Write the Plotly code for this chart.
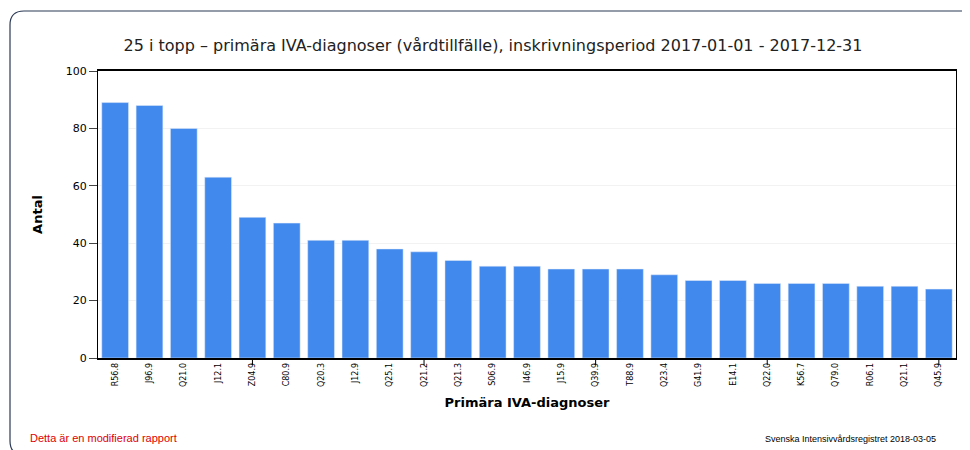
import plotly.graph_objects as go

diagnoser = ["R56.8", "J96.9", "Q21.0", "J12.1", "Z04.9", "C80.9", "Q20.3", "J12.9",
             "Q25.1", "Q21.2", "Q21.3", "S06.9", "I46.9", "J15.9", "Q39.9", "T88.9",
             "Q23.4", "G41.9", "E14.1", "Q22.0", "K56.7", "Q79.0", "R06.1", "Q21.1", "Q45.9"]
antal = [89, 88, 80, 63, 49, 47, 41, 41, 38, 37, 34, 32, 32, 31, 31, 31,
         29, 27, 27, 26, 26, 26, 25, 25, 24]

L, R, T, B = 90, 22, 63, 100
PW, PH = 970 - L - R, 450 - T - B


def px(x):
    return (x - L) / PW


def py(y):
    return (450 - B - y) / PH


fig = go.Figure(go.Bar(x=diagnoser, y=antal, marker_color="#4289ee", width=0.78))

# rounded outer frame around the whole chart (pixel coords converted to paper)
x0, x1, y0, y1, c = 2, 967, 3, 447, 14
path = (f"M {px(x0 + c)},{py(y0)} L {px(x1 - c)},{py(y0)} Q {px(x1)},{py(y0)} {px(x1)},{py(y0 + c)} "
        f"L {px(x1)},{py(y1 - c)} Q {px(x1)},{py(y1)} {px(x1 - c)},{py(y1)} "
        f"L {px(x0 + c)},{py(y1)} Q {px(x0)},{py(y1)} {px(x0)},{py(y1 - c)} "
        f"L {px(x0)},{py(y0 + c)} Q {px(x0)},{py(y0)} {px(x0 + c)},{py(y0)} Z")
fig.add_shape(type="path", xref="paper", yref="paper", layer="below", path=path,
              line=dict(color="#2b3a55", width=1.2))
for i in range(4, len(diagnoser), 5):
    fig.add_shape(type="line", xref="x", yref="paper", x0=i, x1=i, y0=0, y1=-0.025,
                  line=dict(color="#000", width=1))

fig.update_layout(
    width=970, height=450,
    margin=dict(l=L, r=R, t=T, b=B),
    paper_bgcolor="white", plot_bgcolor="white",
    font=dict(family="Verdana, DejaVu Sans", size=11, color="#000"),
    title=dict(text="25 i topp – primära IVA-diagnoser (vårdtillfälle), inskrivningsperiod 2017-01-01 - 2017-12-31",
               x=0.5, xanchor="center", y=0.93, font=dict(size=16, color="#222")),
    showlegend=False, bargap=0.22,
    xaxis=dict(type="category", tickangle=-90, tickfont=dict(size=8), automargin=False,
               showline=True, linecolor="#000", linewidth=1.5, mirror=True, ticks="",
               title=dict(text="<b>Primära IVA-diagnoser</b>", font=dict(size=13), standoff=12)),
    yaxis=dict(range=[0, 100], dtick=20, showline=True, linecolor="#000", mirror=True,
               ticks="outside", ticklen=8, gridcolor="#f2f2f2", zeroline=False, automargin=False,
               title=dict(text="<b>Antal</b>", font=dict(size=13), standoff=20)),
    annotations=[
        dict(text="Detta är en modifierad rapport", x=px(20), y=py(430), xref="paper", yref="paper",
             xanchor="left", yanchor="middle", showarrow=False,
             font=dict(color="#e00000", size=11, family="Arial, Liberation Sans")),
        dict(text="Svenska Intensivvårdsregistret 2018-03-05", x=px(930), y=py(431), xref="paper",
             yref="paper", xanchor="right", yanchor="middle", showarrow=False,
             font=dict(size=9, family="Arial, Liberation Sans")),
    ],
)

fig.write_html("out.html")
